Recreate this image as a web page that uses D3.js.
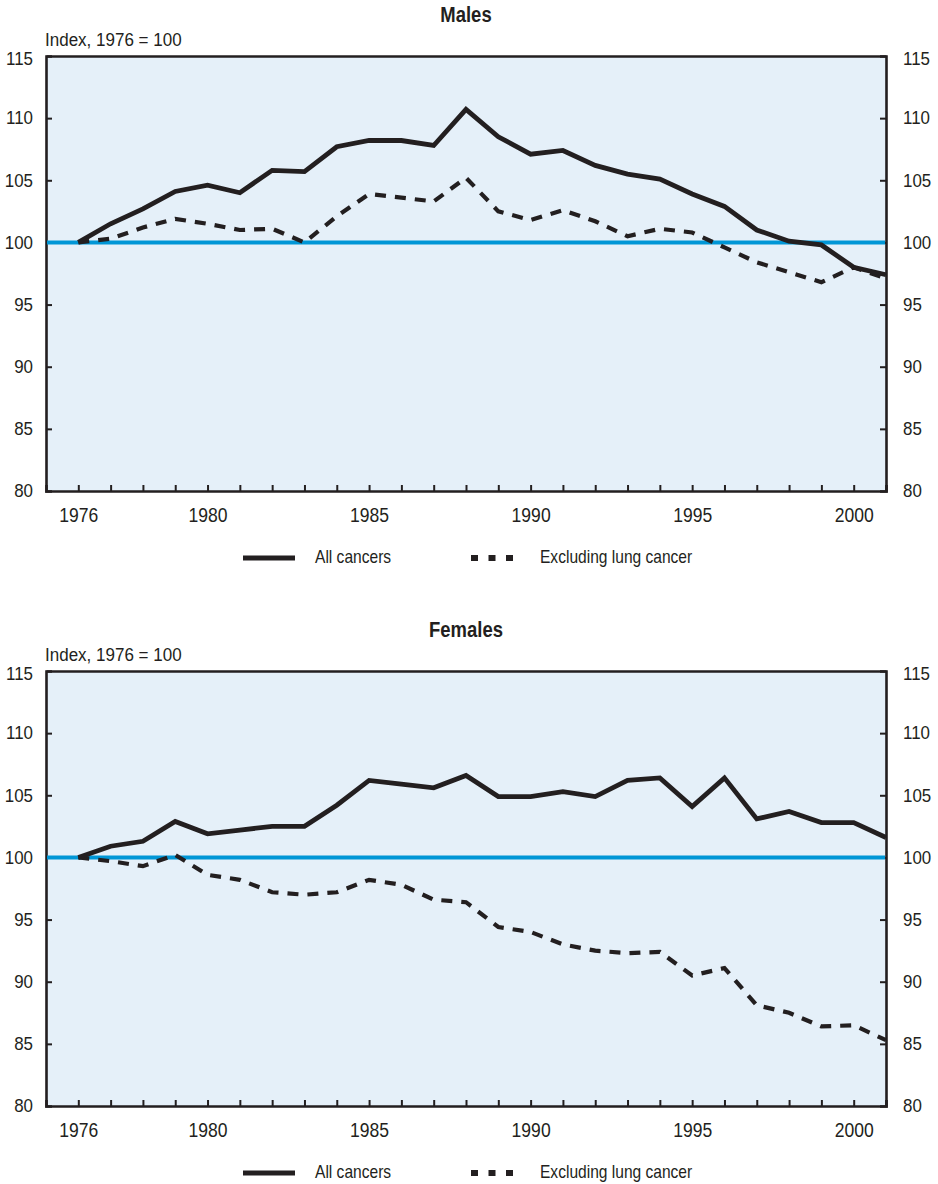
<!DOCTYPE html>
<html>
<head>
<meta charset="utf-8">
<script src="https://cdn.jsdelivr.net/npm/d3@7"></script>
<style>
  html, body { margin: 0; padding: 0; background: #fff; }
  svg { display: block; }
  text { font-family: "Liberation Sans Narrow", "Arial Narrow", "Liberation Sans", sans-serif; fill: #231f20; }
</style>
</head>
<body>
<svg id="chart" width="938" height="1184"></svg>
<script>
const years = d3.range(1976, 2002);
const malesAll = [100, 101.5, 102.7, 104.1, 104.6, 104.0, 105.8, 105.7, 107.7, 108.2, 108.2, 107.8, 110.7,
  108.5, 107.1, 107.4, 106.2, 105.5, 105.1, 103.9, 102.9, 101.0, 100.1, 99.8, 98.0, 97.4];
const malesExLung = [100, 100.3, 101.2, 101.9, 101.5, 101.0, 101.1, 100.0, 102.1, 103.9, 103.6, 103.3, 105.2,
  102.5, 101.8, 102.6, 101.7, 100.5, 101.1, 100.8, 99.6, 98.4, 97.6, 96.8, 98.0, 97.1];
const femalesAll = [100, 100.9, 101.3, 102.9, 101.9, 102.2, 102.5, 102.5, 104.2, 106.2, 105.9, 105.6, 106.6,
  104.9, 104.9, 105.3, 104.9, 106.2, 106.4, 104.1, 106.4, 103.1, 103.7, 102.8, 102.8, 101.6];
const femalesExLung = [100, 99.7, 99.3, 100.2, 98.6, 98.2, 97.2, 97.0, 97.2, 98.2, 97.8, 96.6, 96.4,
  94.4, 94.0, 93.0, 92.5, 92.3, 92.4, 90.5, 91.1, 88.1, 87.5, 86.4, 86.5, 85.3];
const yTicks = [80, 85, 90, 95, 100, 105, 110, 115];
const xTickLabels = [1976, 1980, 1985, 1990, 1995, 2000];
const panelTitles = ["Males", "Females"];
const axisNote = "Index, 1976 = 100";
const legendLabels = ["All cancers", "Excluding lung cancer"];
const baseline = 100;

const svg = d3.select("#chart");
const ink = "#231f20";
const bg = "#e5f0f9";
const blue = "#0096d6";

const x = d3.scaleLinear().domain([1975, 2001]).range([46, 886]);

// emulate a condensed face: larger size, horizontally compressed
function condense(sel, sx) {
  sel.each(function () {
    const t = d3.select(this);
    const xv = +(t.attr("x") || 0);
    t.attr("x", xv / sx).attr("transform", `scale(${sx},1)`);
  });
}
function label(g, xp, yp, txt, size, sx, opts = {}) {
  const t = g.append("text").attr("x", xp / sx).attr("y", yp)
    .attr("transform", `scale(${sx},1)`).attr("font-size", size).text(txt);
  if (opts.anchor) t.attr("text-anchor", opts.anchor);
  if (opts.bold) t.attr("font-weight", "bold");
  return t;
}

function panel(offsetY, title, allData, exData) {
  const g = svg.append("g").attr("transform", `translate(0,${offsetY})`);
  const y = d3.scaleLinear().domain([80, 115]).range([491, 56]);

  label(g, (x.range()[0] + x.range()[1]) / 2, 22.5, title, 22, 0.84, { anchor: "middle", bold: true });
  label(g, 45, 46.5, axisNote, 18.5, 0.92);

  g.append("rect").attr("x", x.range()[0]).attr("y", y(115))
    .attr("width", x.range()[1] - x.range()[0]).attr("height", y(80) - y(115)).attr("fill", bg);

  const left = g.append("g").attr("transform", `translate(${x.range()[0]},0)`)
    .call(d3.axisLeft(y).tickValues(yTicks).tickSize(-6).tickPadding(13).tickFormat(d3.format("d")));
  const right = g.append("g").attr("transform", `translate(${x.range()[1]},0)`)
    .call(d3.axisRight(y).tickValues(yTicks).tickSize(-6).tickPadding(17).tickFormat(d3.format("d")));
  const bottom = g.append("g").attr("transform", `translate(0,${y(80)})`)
    .call(d3.axisBottom(x).tickValues(years).tickSize(-6).tickPadding(17)
      .tickFormat(d => xTickLabels.includes(d) ? d : ""));
  const top = g.append("g").attr("transform", `translate(0,${y(115)})`)
    .call(d3.axisTop(x).tickValues([]).tickSize(0));
  [left, right, bottom, top].forEach(a => {
    a.select(".domain").attr("stroke", ink).attr("stroke-width", 2.6);
    a.selectAll(".tick line").attr("stroke", ink).attr("stroke-width", 2);
    a.selectAll(".tick text").attr("fill", ink)
      .attr("font-family", "'Liberation Sans Narrow', 'Arial Narrow', sans-serif");
  });
  [left, right].forEach(a => {
    a.selectAll(".tick text").attr("font-size", 18).call(condense, 0.94);
    a.selectAll(".tick").filter(d => d === 80 || d === 115).select("line").remove();
    a.selectAll(".tick").filter(d => d === 115).select("text").attr("dy", "0.48em");
  });
  bottom.selectAll(".tick text").attr("font-size", 19.5).call(condense, 0.9);
  top.selectAll(".tick").remove();

  g.append("line").attr("x1", x.range()[0] + 1).attr("x2", x.range()[1] - 1)
    .attr("y1", y(baseline)).attr("y2", y(baseline)).attr("stroke", blue).attr("stroke-width", 4);

  const line = d3.line().x((d, i) => x(years[i])).y(d => y(d));
  g.append("path").datum(exData).attr("d", line).attr("fill", "none").attr("stroke", ink)
    .attr("stroke-width", 4.2).attr("stroke-dasharray", "11,9");
  g.append("path").datum(allData).attr("d", line).attr("fill", "none").attr("stroke", ink)
    .attr("stroke-width", 4.8).attr("stroke-linejoin", "miter");

  const ly = 558;
  g.append("line").attr("x1", 243).attr("x2", 295).attr("y1", ly).attr("y2", ly)
    .attr("stroke", ink).attr("stroke-width", 5);
  label(g, 315, ly + 5.5, legendLabels[0], 17.5, 0.89);
  g.append("line").attr("x1", 471).attr("x2", 521).attr("y1", ly).attr("y2", ly)
    .attr("stroke", ink).attr("stroke-width", 6).attr("stroke-dasharray", "7,10.5");
  label(g, 540, ly + 5.5, legendLabels[1], 17.5, 0.89);
}

panel(0, panelTitles[0], malesAll, malesExLung);
panel(615, panelTitles[1], femalesAll, femalesExLung);
</script>
</body>
</html>
